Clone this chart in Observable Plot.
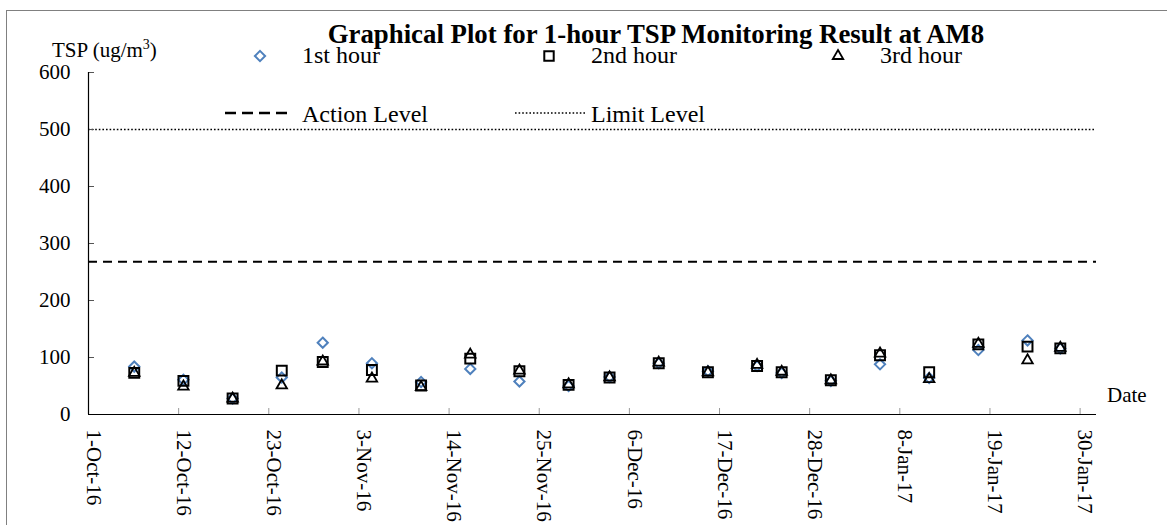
<!DOCTYPE html>
<html>
<head>
<meta charset="utf-8">
<script src="https://cdn.jsdelivr.net/npm/d3@7"></script>
<script src="https://cdn.jsdelivr.net/npm/@observablehq/plot@0.6"></script>
<style>
  html, body { margin: 0; padding: 0; background: #fff; }
  #wrap { position: relative; width: 1167px; height: 525px; overflow: hidden; font-family: "Liberation Serif", "Times New Roman", serif; color: #000; }
  #wrap .abs { position: absolute; white-space: nowrap; }
  #frame { position: absolute; left: 6px; top: 10px; width: 1300px; height: 700px; border: 1px solid #808080; pointer-events: none; box-sizing: border-box; }
  #title { font-weight: bold; font-size: 26.8px; line-height: 20px; left: 656px; top: 24px; transform: translateX(-50%); }
  .ylab { font-size: 21px; line-height: 16px; }
  .leg { font-size: 24px; line-height: 18px; }
  svg.mk { position: absolute; overflow: visible; }
</style>
</head>
<body>
<div id="wrap">
  <div id="chart"></div>
</div>
<script>
// ---- data ----
const dates = [
  "2016-10-06T14:00Z","2016-10-12T14:00Z","2016-10-18T14:00Z","2016-10-24T14:00Z","2016-10-29T14:00Z",
  "2016-11-04T14:00Z","2016-11-10T14:00Z","2016-11-16T14:00Z","2016-11-22T14:00Z","2016-11-28T14:00Z",
  "2016-12-03T14:00Z","2016-12-09T14:00Z","2016-12-15T14:00Z","2016-12-21T14:00Z","2016-12-24T14:00Z",
  "2016-12-30T14:00Z","2017-01-05T14:00Z","2017-01-11T14:00Z","2017-01-17T14:00Z","2017-01-23T14:00Z",
  "2017-01-27T14:00Z"
];
const hour1 = [84, 61, 28, 65, 126, 90, 57, 80, 58, 50, 66, 90, 76, 85, 73, 59, 88, 64, 113, 130, 116];
const hour2 = [73, 59, 28, 77, 92, 78, 51, 98, 76, 52, 65, 90, 74, 85, 74, 60, 104, 74, 123, 119, 116];
const hour3 = [73, 49, 28, 51, 93, 63, 48, 105, 77, 53, 65, 91, 74, 87, 75, 60, 107, 62, 124, 95, 117];
const actionLevel = 268;
const limitLevel = 500;
const xTickDates = ["2016-10-01","2016-10-12","2016-10-23","2016-11-03","2016-11-14","2016-11-25",
                    "2016-12-06","2016-12-17","2016-12-28","2017-01-08","2017-01-19","2017-01-30"];
const yTicks = [0, 100, 200, 300, 400, 500, 600];
const xDomain = ["2016-10-01", "2017-02-01"];
const seriesNames = ["1st hour", "2nd hour", "3rd hour"];
const levelNames = ["Action Level", "Limit Level"];
const titleText = "Graphical Plot for 1-hour TSP Monitoring Result at AM8";
const xLabel = "Date";

// ---- build ----
const parse = s => new Date(s.length === 10 ? s + "T00:00Z" : s);
const rows = dates.map((d, i) => ({date: parse(d), h1: hour1[i], h2: hour2[i], h3: hour3[i]}));
const xt = xTickDates.map(parse);
const fmt = d3.utcFormat("%-d-%b-%y");

const W = 1167, H = 525, mL = 88, mR = 71, mT = 72, mB = 111;
const pw = W - mL - mR, ph = H - mT - mB;
const blue = "#4F81BD";

const chart = Plot.plot({
  width: W, height: H,
  marginLeft: mL, marginRight: mR, marginTop: mT, marginBottom: mB,
  style: {fontFamily: '"Liberation Serif", "Times New Roman", serif', fontSize: "21px", color: "#000", background: "transparent", overflow: "visible"},
  x: {type: "utc", domain: xDomain.map(parse)},
  y: {domain: [0, 600]},
  marks: [
    Plot.ruleY([limitLevel], {stroke: "#000", strokeWidth: 1.6, strokeDasharray: "1.6,2"}),
    Plot.ruleY([actionLevel], {stroke: "#000", strokeWidth: 2.2, strokeDasharray: "9,6"}),
    Plot.tickY(yTicks, {y: d => d, stroke: "#555", insetRight: pw - 6}),
    Plot.tickX(xt, {x: d => d, stroke: "#999", insetTop: ph - 6}),
    Plot.ruleY([0], {stroke: "#000", strokeWidth: 1.2}),
    Plot.ruleX([parse(xDomain[0])], {stroke: "#000", strokeWidth: 1.2}),
    Plot.axisY({ticks: yTicks, tickSize: 0, tickPadding: 18, fontSize: 21, label: null}),
    Plot.axisX({ticks: xt, tickFormat: fmt, tickSize: 0, tickPadding: 15, tickRotate: 90, dx: 5, fontSize: 21, label: null}),
    Plot.dot(rows, {x: "date", y: "h1", symbol: "diamond2", r: 4.6, stroke: blue, fill: "none", strokeWidth: 2}),
    Plot.dot(rows, {x: "date", y: "h2", symbol: "square2", r: 6.3, stroke: "#000", fill: "none", strokeWidth: 2}),
    Plot.dot(rows, {x: "date", y: "h3", symbol: "triangle2", r: 5, stroke: "#000", fill: "none", strokeWidth: 1.8})
  ]
});
document.getElementById("chart").appendChild(chart);

// ---- overlay: title, axis labels, legend, frame ----
const wrap = document.getElementById("wrap");
function addText(txt, cls, left, top, id) {
  const d = document.createElement("div");
  d.className = "abs " + cls;
  if (id) d.id = id;
  if (left !== null) d.style.left = left + "px";
  if (top !== null) d.style.top = top + "px";
  d.innerHTML = txt;
  wrap.appendChild(d);
  return d;
}
addText(titleText, "", null, null, "title");
addText('TSP (ug/m<sup style="font-size:14px;vertical-align:8px;line-height:0">3</sup>)', "ylab", 52, 42.4);
addText(xLabel, "ylab", 1107, 387);

function addMarker(sym, r, stroke, sw, cx, cy) {
  const s = d3.create("svg").attr("class", "mk").attr("width", 20).attr("height", 20)
    .style("left", (cx - 10) + "px").style("top", (cy - 10) + "px");
  s.append("path").attr("transform", "translate(10,10)")
    .attr("d", d3.symbol(sym, Math.PI * r * r)())
    .attr("fill", "none").attr("stroke", stroke).attr("stroke-width", sw);
  wrap.appendChild(s.node());
}
function addLine(x1, x2, cy, dash, sw) {
  const s = d3.create("svg").attr("class", "mk").attr("width", x2 - x1).attr("height", 10)
    .style("left", x1 + "px").style("top", (cy - 5) + "px");
  s.append("line").attr("x1", 0).attr("x2", x2 - x1).attr("y1", 5).attr("y2", 5)
    .attr("stroke", "#000").attr("stroke-width", sw).attr("stroke-dasharray", dash);
  wrap.appendChild(s.node());
}
addMarker(d3.symbolDiamond2, 4.6, blue, 2, 260, 56);
addMarker(d3.symbolSquare2, 6.0, "#000", 2, 549, 56);
addMarker(d3.symbolTriangle2, 5, "#000", 1.8, 838, 56);
addText(seriesNames[0], "leg", 302, 45.9);
addText(seriesNames[1], "leg", 591, 45.9);
addText(seriesNames[2], "leg", 880, 45.9);
addLine(225, 289, 113, "11,6", 2.4);
addLine(515, 585, 113, "1.6,2", 1.6);
addText(levelNames[0], "leg", 302, 104.6);
addText(levelNames[1], "leg", 591, 104.6);

const fr = document.createElement("div");
fr.id = "frame";
wrap.appendChild(fr);
</script>
</body>
</html>
